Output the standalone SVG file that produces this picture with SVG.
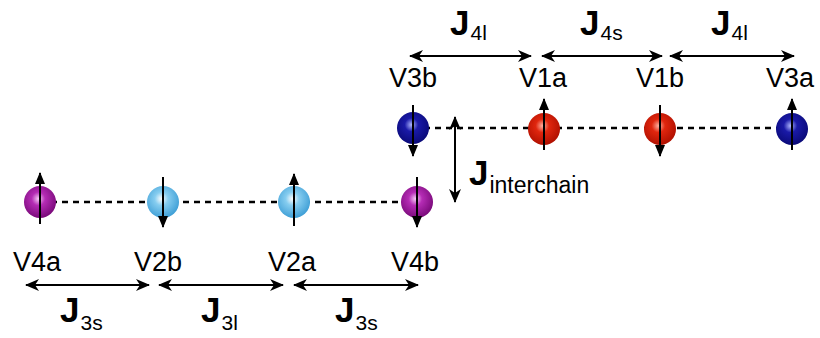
<svg xmlns="http://www.w3.org/2000/svg" width="820" height="338" viewBox="0 0 820 338">
  <defs>
    <radialGradient id="gPurple" cx="0.45" cy="0.4" r="0.6">
      <stop offset="0" stop-color="#f6c8f6"/>
      <stop offset="0.35" stop-color="#b52cb5"/>
      <stop offset="1" stop-color="#7a0a7a"/>
    </radialGradient>
    <radialGradient id="gLight" cx="0.45" cy="0.4" r="0.6">
      <stop offset="0" stop-color="#ffffff"/>
      <stop offset="0.35" stop-color="#86cdf0"/>
      <stop offset="1" stop-color="#3f9fd6"/>
    </radialGradient>
    <radialGradient id="gRed" cx="0.45" cy="0.4" r="0.6">
      <stop offset="0" stop-color="#ffb0a0"/>
      <stop offset="0.35" stop-color="#e0260e"/>
      <stop offset="1" stop-color="#b01000"/>
    </radialGradient>
    <radialGradient id="gBlue" cx="0.45" cy="0.4" r="0.6">
      <stop offset="0" stop-color="#b0b8ff"/>
      <stop offset="0.35" stop-color="#1a1aa8"/>
      <stop offset="1" stop-color="#0a0a78"/>
    </radialGradient>
    <marker id="spinHead" viewBox="0 0 12 10" refX="11" refY="5" markerWidth="12" markerHeight="10" markerUnits="userSpaceOnUse" orient="auto">
      <path d="M0,0 L12,5 L0,10 Z" fill="#000"/>
    </marker>
    <marker id="bondHead" viewBox="0 0 14 12" refX="13" refY="6" markerWidth="14" markerHeight="12" markerUnits="userSpaceOnUse" orient="auto-start-reverse">
      <path d="M0,0 L14,6 L0,12 L4,6 Z" fill="#000"/>
    </marker>
  </defs>
  <style>
    .chain { stroke: #000; stroke-width: 2.6; stroke-dasharray: 6 5; fill: none; }
    .spin { stroke: #000; stroke-width: 2; marker-end: url(#spinHead); }
    .bond { stroke: #000; stroke-width: 2; marker-start: url(#bondHead); marker-end: url(#bondHead); }
    .site { font-family: "Liberation Sans", Arial, sans-serif; font-size: 27px; fill: #000; text-anchor: middle; }
    .jlab { font-family: "Liberation Sans", Arial, sans-serif; font-weight: bold; font-size: 35px; fill: #000; }
    .jsub { font-weight: normal; font-size: 21px; }
    .jint { font-family: "Liberation Sans", Arial, sans-serif; font-weight: bold; font-size: 35px; fill: #000; }
    .jint .jsub { font-size: 23px; }
  </style>

  <!-- chain backbones and exchange paths -->
  <g id="connectors">
    <line class="chain" x1="40" y1="202" x2="417" y2="202"/>
    <line class="chain" x1="413" y1="128" x2="792" y2="128"/>
    <line class="bond" x1="410" y1="56" x2="531" y2="56"/>
    <line class="bond" x1="542" y1="56" x2="662" y2="56"/>
    <line class="bond" x1="670" y1="56" x2="794" y2="56"/>
    <line class="bond" x1="26" y1="285" x2="149" y2="285"/>
    <line class="bond" x1="159" y1="285" x2="283" y2="285"/>
    <line class="bond" x1="294" y1="285" x2="418" y2="285"/>
    <line class="bond" x1="455" y1="117" x2="455" y2="202"/>
  </g>

  <!-- lower chain -->
  <g id="V4a">
    <circle cx="40" cy="202" r="16" fill="url(#gPurple)"/>
    <line class="spin" x1="40" y1="224" x2="40" y2="173"/>
    <text class="site" x="37" y="271">V4a</text>
  </g>
  <g id="V2b">
    <circle cx="163" cy="202" r="16" fill="url(#gLight)"/>
    <line class="spin" x1="163" y1="177" x2="163" y2="227"/>
    <text class="site" x="158" y="271">V2b</text>
  </g>
  <g id="V2a">
    <circle cx="294" cy="202" r="16" fill="url(#gLight)"/>
    <line class="spin" x1="294" y1="226" x2="294" y2="174"/>
    <text class="site" x="292" y="271">V2a</text>
  </g>
  <g id="V4b">
    <circle cx="417" cy="202" r="16" fill="url(#gPurple)"/>
    <line class="spin" x1="417" y1="177" x2="417" y2="227"/>
    <text class="site" x="415" y="271">V4b</text>
  </g>

  <!-- upper chain -->
  <g id="V3b">
    <circle cx="413" cy="128" r="16" fill="url(#gBlue)"/>
    <line class="spin" x1="413" y1="105" x2="413" y2="156"/>
    <text class="site" x="413" y="87">V3b</text>
  </g>
  <g id="V1a">
    <circle cx="544" cy="129" r="16" fill="url(#gRed)"/>
    <line class="spin" x1="544" y1="150" x2="544" y2="99"/>
    <text class="site" x="543" y="87">V1a</text>
  </g>
  <g id="V1b">
    <circle cx="660" cy="129" r="16" fill="url(#gRed)"/>
    <line class="spin" x1="660" y1="105" x2="660" y2="156"/>
    <text class="site" x="660" y="87">V1b</text>
  </g>
  <g id="V3a">
    <circle cx="792" cy="129" r="16" fill="url(#gBlue)"/>
    <line class="spin" x1="792" y1="150" x2="792" y2="99"/>
    <text class="site" x="790" y="87">V3a</text>
  </g>

  <!-- exchange labels -->
  <g id="labels">
    <text class="jlab" x="450" y="35">J<tspan class="jsub" dx="1" dy="5">4l</tspan></text>
    <text class="jlab" x="580" y="35">J<tspan class="jsub" dx="1" dy="5">4s</tspan></text>
    <text class="jlab" x="711" y="35">J<tspan class="jsub" dx="1" dy="5">4l</tspan></text>
    <text class="jlab" x="60" y="322">J<tspan class="jsub" dx="1" dy="8">3s</tspan></text>
    <text class="jlab" x="201" y="322">J<tspan class="jsub" dx="1" dy="8">3l</tspan></text>
    <text class="jlab" x="335" y="322">J<tspan class="jsub" dx="1" dy="8">3s</tspan></text>
    <text class="jint" x="469" y="185">J<tspan class="jsub" dx="1" dy="8">interchain</tspan></text>
  </g>
</svg>
